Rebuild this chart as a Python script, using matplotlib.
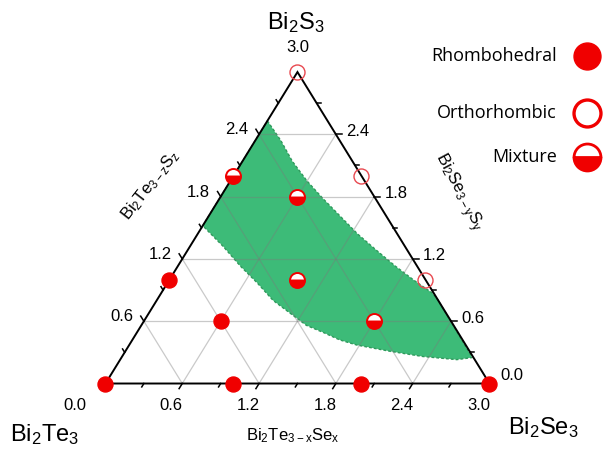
import numpy as np
import matplotlib.pyplot as plt

plt.rcParams['font.family'] = ['Liberation Sans', 'DejaVu Sans']
plt.rcParams['mathtext.default'] = 'regular'

# compositions Bi2Te(3-x-y)Se(x)S(y): Se content and S content, Te is the rest
rhombo_se = [0.0, 1.0, 2.0, 3.0, 0.0, 0.6]
rhombo_s = [0.0, 0.0, 0.0, 0.0, 1.0, 0.6]
ortho_se = [0.0, 1.0, 2.0]
ortho_s = [3.0, 2.0, 1.0]
mix_se = [0.0, 0.6, 1.0, 1.8]
mix_s = [2.0, 1.8, 1.0, 0.6]

# two-phase band (upper and lower borders, left edge -> right edge)
band_upper_se = [0.0, 0.20, 0.39, 0.60, 0.81, 1.03, 1.25, 1.48, 1.70, 1.92, 2.12, 2.20]
band_upper_s = [2.53, 2.34, 2.14, 1.95, 1.78, 1.61, 1.44, 1.28, 1.13, 0.99, 0.87, 0.80]
band_lower_se = [0.0, 0.26, 0.49, 0.70, 0.91, 1.10, 1.29, 1.46, 1.62, 1.78, 2.07, 2.35, 2.63, 2.74]
band_lower_s = [1.52, 1.32, 1.13, 0.97, 0.80, 0.68, 0.56, 0.49, 0.42, 0.37, 0.31, 0.26, 0.23, 0.25]

grid_vals = [0.6, 1.2, 1.8, 2.4]
tick_vals = [0.3, 0.6, 0.9, 1.2, 1.5, 1.8, 2.1, 2.4, 2.7]
label_vals = [0.0, 0.6, 1.2, 1.8, 2.4, 3.0]

legend_labels = ['Rhombohedral', 'Orthorhombic', 'Mixture']

RED = '#f00000'
GREEN = '#3dbb78'

W, H = 603, 454
x0, x1 = -0.824, 3.887
y0, y1 = -0.679, 3.694
SX = W / (x1 - x0)
SY = H / (y1 - y0)


def tern(se, s):
    se = np.asarray(se, float)
    s = np.asarray(s, float)
    return se + s / 2, s


def unit(dx, dy):
    # one pixel step along a data-space direction
    n = np.hypot(dx * SX, dy * SY)
    return dx / n, dy / n


def fxy(px, py):
    return px / W, 1 - py / H


fig = plt.figure(figsize=(W / 100, H / 100), dpi=100)
ax = fig.add_axes([0, 0, 1, 1])
ax.set_xlim(x0, x1)
ax.set_ylim(y0, y1)
ax.axis('off')

# green band
up_x, up_y = tern(band_upper_se, band_upper_s)
lo_x, lo_y = tern(band_lower_se, band_lower_s)
bx = np.concatenate([up_x, lo_x[::-1]])
by = np.concatenate([up_y, lo_y[::-1]])
ax.fill(bx, by, facecolor=GREEN, edgecolor='#2f9a5c', lw=1.0,
        ls=(0, (2, 1.5)), zorder=1)

# grid
for v in grid_vals:
    for a, b in [((0, v), (3 - v, v)), ((v, 0), (v, 3 - v)), ((3 - v, 0), (0, 3 - v))]:
        gx, gy = tern([a[0], b[0]], [a[1], b[1]])
        ax.plot(gx, gy, color='#7a7a7a', alpha=0.4, lw=0.9, zorder=2)

# triangle frame
fx, fy = tern([0, 3, 0, 0], [0, 0, 3, 0])
ax.plot(fx, fy, color='black', lw=1.4, zorder=3, solid_joinstyle='miter')

# ticks
dir_bottom = unit(-1.5, -3.0)
dir_left = unit(-1.5, 3.0)
dir_right = unit(1.0, 0.0)
for v in tick_vals:
    ln = 6 if abs(v / 0.6 - round(v / 0.6)) < 1e-6 else 4
    for (px, py), d in [(tern(v, 0), dir_bottom), (tern(0, v), dir_left), (tern(3 - v, v), dir_right)]:
        ax.plot([px, px + d[0] * ln], [py, py + d[1] * ln], color='black', lw=1.1, zorder=3)

# tick labels
for v in label_vals:
    txt = f'{v:.1f}'
    if v < 3.0:
        off = (-31, -22) if v == 0 else (-11, -22)
        ax.annotate(txt, tern(v, 0), xytext=off, textcoords='offset pixels',
                    ha='center', va='center', fontsize=12)
    if 0 < v < 3.0:
        ax.annotate(txt, tern(0, v), xytext=(-22, 4.5), textcoords='offset pixels',
                    ha='center', va='center', fontsize=12)
    if v < 3.0:
        off = (22, 8) if v == 0 else (22, 3)
        ax.annotate(txt, tern(3 - v, v), xytext=off, textcoords='offset pixels',
                    ha='center', va='center', fontsize=12)
    else:
        ax.annotate(txt, tern(0, v), xytext=(0, 24.5), textcoords='offset pixels',
                    ha='center', va='center', fontsize=12)
        ax.annotate(txt, tern(3.0, 0), xytext=(-11, -22), textcoords='offset pixels',
                    ha='center', va='center', fontsize=12)

# data points
mx, my = tern(rhombo_se, rhombo_s)
ax.plot(mx, my, 'o', ms=10.8, color=RED, mec=RED, zorder=5, clip_on=False)
mx, my = tern(ortho_se, ortho_s)
ax.plot(mx, my, 'o', ms=10.8, mfc='none', mec='#e8484f', mew=1.0, zorder=5, clip_on=False)
mx, my = tern(mix_se, mix_s)
ax.plot(mx, my, 'o', ms=10.8, fillstyle='bottom', mfc=RED, mfcalt='white',
        mec=RED, mew=1.4, zorder=5)

# corner and axis titles
fig.text(*fxy(296, 23), 'Bi$_2$S$_3$', fontsize=17, ha='center', va='center')
fig.text(*fxy(45, 435), 'Bi$_2$Te$_3$', fontsize=17, ha='center', va='center')
fig.text(*fxy(543, 428), 'Bi$_2$Se$_3$', fontsize=17, ha='center', va='center')
fig.text(*fxy(293, 436), 'Bi$_2$Te$_{3-x}$Se$_x$', fontsize=12, ha='center', va='center')
fig.text(*fxy(150, 185), 'Bi$_2$Te$_{3-z}$S$_z$', fontsize=12, ha='center', va='center',
         rotation=52, rotation_mode='anchor')
fig.text(*fxy(458, 192), 'Bi$_2$Se$_{3-y}$S$_y$', fontsize=12, ha='center', va='center',
         rotation=-62, rotation_mode='anchor')

# legend
leg_y = [56, 112.5, 157]
styles = [dict(mfc=RED, mec=RED),
          dict(mfc='white', mec=RED, mew=2.4),
          dict(fillstyle='bottom', mfc=RED, mfcalt='white', mec=RED, mew=2.0)]
for lab, ly, st in zip(legend_labels, leg_y, styles):
    fig.text(*fxy(557, ly), lab, fontsize=13, ha='right', va='center',
             family=['Open Sans', 'DejaVu Sans'])
    lx, lyy = fxy(587, ly)
    ax.plot([lx], [lyy], 'o', ms=19.4, transform=fig.transFigure, clip_on=False, **st)

fig.savefig('out.png', dpi=100)
